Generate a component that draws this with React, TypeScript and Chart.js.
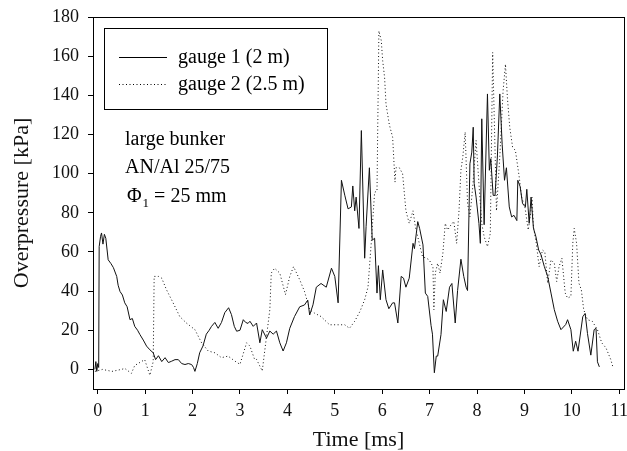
import React, { useEffect, useRef } from 'react';
import { Chart, registerables } from 'chart.js';

Chart.register(...registerables);

// ---- data ----
const gauge1Time = [
  -0.06, -0.04, -0.02, 0.0, 0.02, 0.03, 0.06, 0.08, 0.11, 0.14, 0.17, 0.22, 0.28, 0.33, 0.4, 0.43, 0.47, 0.52, 0.57,
  0.62, 0.68, 0.73, 0.78, 0.84, 0.89, 0.96, 1.03, 1.1, 1.17, 1.22, 1.28, 1.35, 1.42, 1.49, 1.56, 1.63, 1.7, 1.77,
  1.84, 1.91, 1.98, 2.02, 2.05, 2.1, 2.15, 2.22, 2.29, 2.35, 2.4, 2.47, 2.54, 2.61, 2.68, 2.76, 2.82, 2.88, 2.93,
  3.0, 3.07, 3.12, 3.17, 3.21, 3.28, 3.35, 3.42, 3.47, 3.56, 3.63, 3.7, 3.77, 3.84, 3.91, 3.98, 4.05, 4.15, 4.26,
  4.36, 4.43, 4.47, 4.54, 4.61, 4.71, 4.82, 4.93, 5.0, 5.07, 5.14, 5.21, 5.28, 5.35, 5.38, 5.42, 5.45, 5.51, 5.56,
  5.63, 5.66, 5.73, 5.79, 5.84, 5.89, 5.92, 5.96, 6.01, 6.08, 6.14, 6.22, 6.26, 6.33, 6.4, 6.45, 6.5, 6.57, 6.65,
  6.68, 6.75, 6.79, 6.86, 6.91, 6.96, 7.03, 7.06, 7.1, 7.14, 7.17, 7.24, 7.29, 7.35, 7.42, 7.47, 7.54, 7.59, 7.66,
  7.72, 7.77, 7.8, 7.85, 7.89, 7.92, 7.94, 7.98, 8.04, 8.07, 8.1, 8.15, 8.22, 8.26, 8.29, 8.34, 8.38, 8.43, 8.48,
  8.53, 8.58, 8.62, 8.68, 8.73, 8.78, 8.84, 8.86, 8.91, 8.96, 9.02, 9.05, 9.1, 9.14, 9.19, 9.24, 9.3, 9.35, 9.42,
  9.49, 9.56, 9.63, 9.7, 9.77, 9.87, 9.91, 9.98, 10.03, 10.08, 10.13, 10.23, 10.28, 10.33, 10.4, 10.47, 10.51,
  10.54, 10.58,
];
const gauge1Pressure = [
  0, 4, -1, 3, 1, 62.7, 68, 69.7, 64, 69, 67, 56, 54, 52, 47.5, 43, 39.8, 38, 34,
  32, 25.4, 26, 22, 20, 17.8, 15, 11.9, 10, 8.5, 5, 7, 4, 6, 3.5, 4.2, 5, 5, 3,
  2.5, 3, 2.5, 1, -1, 3, 8.5, 12, 18, 20, 22, 24, 21, 24, 29, 31.5, 28, 22, 19.5,
  20, 25.4, 24, 23.5, 24.6, 22, 23.7, 13.6, 20.3, 16, 19.6, 18, 19.6, 13.6, 9.4, 13.6, 21, 27, 32,
  32.9, 35.4, 27.8, 33, 42, 43.9, 42, 51.7, 47.5, 34, 96.6, 89, 82, 83, 93.7, 81, 88, 72, 122,
  56.8, 72.9, 103, 66, 67, 39, 53, 35.6, 50.8, 35.6, 31, 34, 34, 23.7, 47.5, 46.6, 42, 46.6, 64.4,
  61.7, 75.5, 71.9, 63.6, 39, 37.3, 22.5, 18, -1.7, 6.8, 6.8, 17.8, 35.6, 29.6, 42, 43.9, 23.7, 40.3, 56.3,
  47.5, 42, 40.3, 105, 111, 123.7, 95, 88, 74.6, 64.4, 128, 73.9, 140.7, 101.7, 107.6, 88.9, 88.9, 109, 140.7,
  115, 96.6, 103, 83, 77.9, 78.7, 76, 96.6, 93.3, 84.7, 83, 92, 74.6, 88, 72.1, 68, 61, 58.5, 52.5,
  47.5, 39, 30.5, 24.6, 20.3, 22.9, 25.4, 20.3, 9.3, 14.4, 9.3, 26.9, 28.6, 18.3, 7.3, 20.3, 21,
  3.9, 1.3,
];

const gauge2Time = [
  -0.06, 0.1, 0.3, 0.5, 0.57, 0.71, 0.78, 0.92, 0.99, 1.1, 1.17, 1.19, 1.28, 1.35, 1.45, 1.59, 1.73, 1.87, 2.05,
  2.19, 2.33, 2.47, 2.61, 2.75, 2.89, 3.0, 3.14, 3.21, 3.31, 3.35, 3.47, 3.56, 3.63, 3.66, 3.73, 3.84, 3.96, 4.05,
  4.13, 4.26, 4.36, 4.47, 4.57, 4.71, 4.89, 5.07, 5.21, 5.31, 5.42, 5.53, 5.63, 5.7, 5.77, 5.84, 5.89, 5.91, 5.93,
  5.98, 6.01, 6.05, 6.08, 6.15, 6.22, 6.27, 6.29, 6.36, 6.43, 6.5, 6.57, 6.65, 6.7, 6.79, 6.85, 6.93, 6.99, 7.07,
  7.09, 7.12, 7.17, 7.22, 7.28, 7.33, 7.38, 7.45, 7.51, 7.57, 7.62, 7.66, 7.7, 7.75, 7.8, 7.85, 7.91, 7.98, 8.04,
  8.1, 8.15, 8.22, 8.28, 8.33, 8.38, 8.41, 8.48, 8.55, 8.6, 8.64, 8.69, 8.75, 8.81, 8.89, 8.94, 9.01, 9.08, 9.13,
  9.16, 9.19, 9.25, 9.31, 9.38, 9.43, 9.49, 9.56, 9.63, 9.68, 9.73, 9.79, 9.86, 9.91, 9.98, 10.02, 10.05, 10.1,
  10.15, 10.2, 10.25, 10.33, 10.43, 10.54, 10.63, 10.72, 10.82, 10.87,
];
const gauge2Pressure = [
  -1, 0, -1, 0, 0.5, -2, 2, 4, 5, -3, 4, 47.5, 47.5, 46.6, 40.7, 34, 27, 23.7, 20.3,
  13.6, 9.4, 8.5, 6, 6.8, 4.3, 2.6, 13.6, 11.9, 5, 5.1, -0.8, 16.9, 30.5, 49.2, 51.7, 49.2, 38.2, 47.5,
  52.5, 45.8, 39.9, 30.5, 28.8, 27, 22.8, 22.8, 22.8, 21, 24.6, 29.6, 35.6, 42, 65, 90.5, 91, 132, 172.9,
  168, 157.7, 149.2, 135.6, 125, 118.6, 95.7, 103, 103, 100, 81, 74.6, 81, 72.9, 63.6, 57.6, 56.8, 56, 52.5,
  30.5, 49.2, 54.2, 49.2, 59.4, 74.6, 71.2, 73.8, 75.6, 64.4, 81, 101.7, 108.5, 121.2, 84.7, 78, 93.3, 117, 95,
  74.6, 67.8, 62.7, 69.5, 161.9, 111.8, 81, 108.5, 142.4, 155.9, 139, 123.7, 113.5, 111.8, 98.3, 88, 83, 71.2, 79.6,
  88, 72.9, 64.4, 52.5, 61, 60, 44, 56, 54.2, 44.9, 52.5, 56.8, 39, 36.4, 37.3, 64.4, 72, 64.4,
  44, 40.7, 30.5, 25.4, 24.6, 20.3, 13.6, 11, 5.1, 0.9,
];

const xTickValues = [0, 1, 2, 3, 4, 5, 6, 7, 8, 9, 10, 11];
const yTickValues = [0, 20, 40, 60, 80, 100, 120, 140, 160, 180];
const seriesLabels = ['gauge 1 (2 m)', 'gauge 2 (2.5 m)'];
const noteLines = ['large bunker', 'AN/Al 25/75'];
const phiNote = { symbol: 'Φ', sub: '1', rest: ' = 25 mm' };
const xTitle = 'Time [ms]';
const yTitle = 'Overpressure [kPa]';

const SERIF = "'Liberation Serif', 'Times New Roman', serif";

const overlayPlugin = {
  id: 'overlay',
  afterDraw(chart: any) {
    const { ctx, chartArea: a } = chart;
    ctx.save();
    ctx.strokeStyle = '#000';
    ctx.lineWidth = 1;
    ctx.setLineDash([]);
    // frame
    ctx.strokeRect(Math.round(a.left) + 0.5, Math.round(a.top) + 0.5, Math.round(a.right - a.left), Math.round(a.bottom - a.top));

    // legend box
    ctx.strokeRect(104.5, 28.5, 223, 81);
    const ds = chart.data.datasets;
    const rows = [57, 84];
    ds.forEach((d: any, i: number) => {
      const y = rows[i] + 0.5;
      ctx.beginPath();
      ctx.setLineDash(d.borderDash || []);
      ctx.moveTo(119, y);
      ctx.lineTo(167, y);
      ctx.stroke();
      ctx.setLineDash([]);
      ctx.fillStyle = '#000';
      ctx.font = `20px ${SERIF}`;
      ctx.textBaseline = 'alphabetic';
      ctx.textAlign = 'left';
      ctx.fillText(d.label, 178, rows[i] + 6);
    });

    // notes
    ctx.font = `20px ${SERIF}`;
    ctx.fillText(noteLines[0], 125, 145);
    ctx.fillText(noteLines[1], 125, 173);
    let x = 127;
    ctx.fillText(phiNote.symbol, x, 202);
    x += ctx.measureText(phiNote.symbol).width;
    ctx.font = `13px ${SERIF}`;
    ctx.fillText(phiNote.sub, x + 1, 207);
    x += ctx.measureText(phiNote.sub).width + 1;
    ctx.font = `20px ${SERIF}`;
    ctx.fillText(phiNote.rest, x, 202);
    ctx.restore();
  },
};

export default function App() {
  const canvasRef = useRef<HTMLCanvasElement | null>(null);

  useEffect(() => {
    document.body.style.margin = '0';
    const canvas = canvasRef.current;
    if (!canvas) return;
    const chart = new Chart(canvas, {
      type: 'line',
      data: {
        datasets: [
          {
            label: seriesLabels[0],
            data: gauge1Time.map((t, i) => ({ x: t, y: gauge1Pressure[i] })),
            borderColor: '#111',
            borderWidth: 1,
            pointRadius: 0,
            tension: 0,
            fill: false,
          },
          {
            label: seriesLabels[1],
            data: gauge2Time.map((t, i) => ({ x: t, y: gauge2Pressure[i] })),
            borderColor: '#111',
            borderWidth: 1,
            borderDash: [1, 2.5],
            pointRadius: 0,
            tension: 0,
            fill: false,
          },
        ],
      },
      options: {
        animation: false,
        responsive: false,
        devicePixelRatio: 1,
        events: [],
        layout: { padding: { top: 17, right: 3, left: 0, bottom: 0 } },
        plugins: { legend: { display: false }, tooltip: { enabled: false }, title: { display: false } },
        scales: {
          x: {
            type: 'linear',
            min: -0.1,
            max: 11.1,
            afterBuildTicks: (s: any) => {
              s.ticks = xTickValues.map((v) => ({ value: v }));
            },
            afterFit: (s: any) => {
              s.height = 62;
              s.paddingLeft = 0;
              s.paddingRight = 0;
            },
            grid: { display: true, drawOnChartArea: false, drawTicks: true, tickLength: 5, color: '#000', lineWidth: 1 },
            border: { display: true, color: '#000', width: 1 },
            ticks: { color: '#111', font: { family: SERIF, size: 18 }, padding: 6, maxRotation: 0, autoSkip: false },
            title: { display: true, text: xTitle, color: '#111', font: { family: SERIF, size: 22, lineHeight: 1 }, padding: { top: 0, bottom: 0 } },
          },
          y: {
            type: 'linear',
            min: -10,
            max: 180,
            afterBuildTicks: (s: any) => {
              s.ticks = yTickValues.map((v) => ({ value: v }));
            },
            afterFit: (s: any) => {
              s.width = 93;
              s.paddingTop = 0;
              s.paddingBottom = 0;
            },
            grid: { display: true, drawOnChartArea: false, drawTicks: true, tickLength: 5, color: '#000', lineWidth: 1 },
            border: { display: true, color: '#000', width: 1 },
            ticks: { color: '#111', font: { family: SERIF, size: 18 }, padding: 9, autoSkip: false },
            title: { display: true, text: yTitle, color: '#111', font: { family: SERIF, size: 22, lineHeight: 1 }, padding: { top: 11, bottom: 0 } },
          },
        },
      },
      plugins: [overlayPlugin],
    });
    return () => chart.destroy();
  }, []);

  return (
    <div style={{ width: 627, height: 451, position: 'relative', background: '#fff' }}>
      <canvas ref={canvasRef} width={627} height={451} style={{ display: 'block' }} />
    </div>
  );
}
